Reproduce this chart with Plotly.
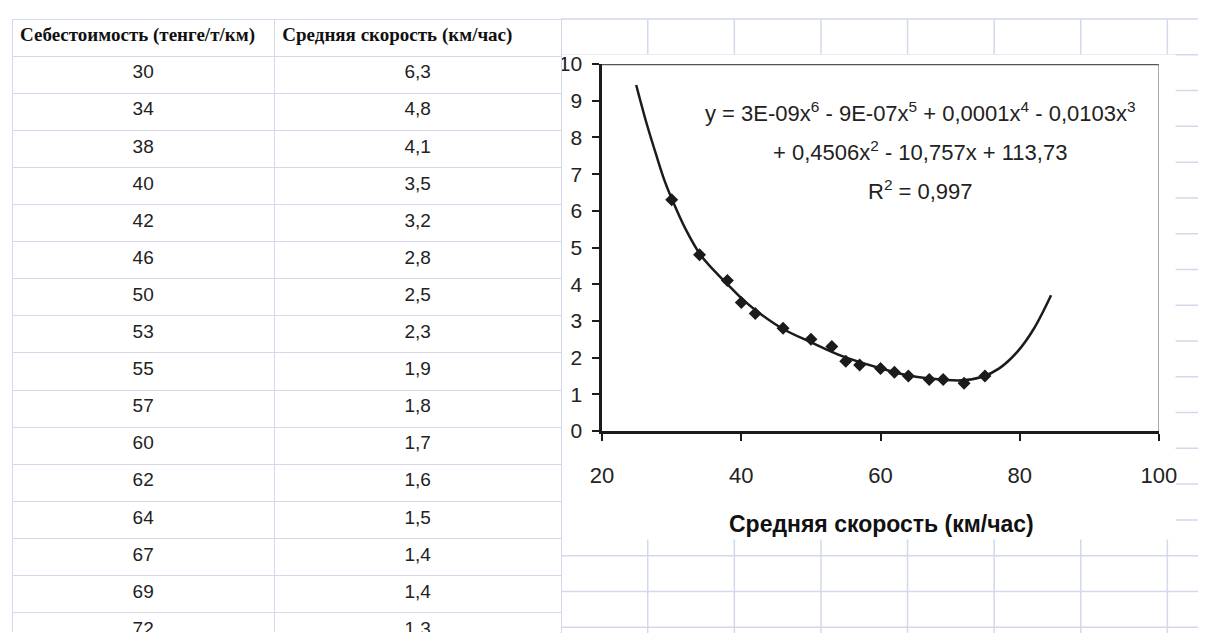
import plotly.graph_objects as go

# ---------------- data ----------------
header_a = "Себестоимость (тенге/т/км)"
header_b = "Средняя скорость (км/час)"
x_vals = [30, 34, 38, 40, 42, 46, 50, 53, 55, 57, 60, 62, 64, 67, 69, 72, 75]
y_vals = [6.3, 4.8, 4.1, 3.5, 3.2, 2.8, 2.5, 2.3, 1.9, 1.8, 1.7, 1.6, 1.5, 1.4, 1.4, 1.3, 1.5]
table_rows = 16  # rows visible in the sheet

trend_x = [24.9, 26.4, 27.8, 29, 30.1, 32, 34.1, 36.2, 38, 40, 42, 46, 50, 54.5, 59.6, 63.8, 67, 71.7, 74.5, 77, 79.7, 82, 84.5]
trend_y = [9.43, 8.38, 7.51, 6.81, 6.29, 5.5, 4.81, 4.35, 4.0, 3.62, 3.3, 2.78, 2.42, 2.04, 1.73, 1.52, 1.43, 1.38, 1.47, 1.7, 2.17, 2.78, 3.7]

eq_lines = [
    "y = 3E-09x<sup>6</sup> - 9E-07x<sup>5</sup> + 0,0001x<sup>4</sup> - 0,0103x<sup>3</sup>",
    "+ 0,4506x<sup>2</sup> - 10,757x + 113,73",
    "R<sup>2</sup> = 0,997",
]
x_title = "Средняя скорость (км/час)"
x_ticks = [20, 40, 60, 80, 100]
y_ticks = list(range(0, 11))

# ---------------- layout constants ----------------
W, H = 1216, 644
GRID = "#d3d9ea"
INK = "#1b1b1b"
SANS = "Liberation Sans, Arial, sans-serif"
TOP = 7.3
ROW_H = 37.1          # sheet row pitch (table rows and sheet grid)
TABLE_RIGHT = 563


def px(v):
    return v / W


def py(v):
    return 1 - v / H


def fmt(v):
    return str(v).replace(".", ",")


fig = go.Figure()

fig.add_trace(go.Table(
    domain=dict(x=[0, px(TABLE_RIGHT)], y=[0, py(TOP)]),
    columnwidth=[269, 294],
    header=dict(
        values=[header_a.replace(" ", "\u00a0"), header_b.replace(" ", "\u00a0")],
        align="left",
        height=ROW_H,
        fill_color="white",
        line=dict(color=GRID, width=1),
        font=dict(family="Liberation Serif, serif", size=19, color="#111", weight="bold"),
    ),
    cells=dict(
        values=[[str(v) for v in x_vals[:table_rows]], [fmt(v) for v in y_vals[:table_rows]]],
        align="center",
        height=ROW_H,
        fill_color="white",
        line=dict(color=GRID, width=1),
        font=dict(family=SANS, size=19, color="#222"),
    ),
))

shapes = []
for k in range(18):
    yy = TOP + ROW_H * k
    shapes.append(dict(type="line", xref="paper", yref="paper", x0=px(TABLE_RIGHT), x1=1,
                       y0=py(yy), y1=py(yy), line=dict(color=GRID, width=1.5), layer="below"))
for k in range(8):
    xx = TABLE_RIGHT + 88.8 * k
    shapes.append(dict(type="line", xref="paper", yref="paper", x0=px(xx), x1=px(xx),
                       y0=0, y1=py(TOP), line=dict(color=GRID, width=1.5), layer="below"))
# white chart sheet pasted over the grid
shapes.append(dict(type="rect", xref="paper", yref="paper", x0=px(562), x1=px(1193),
                   y0=py(547), y1=py(44), fillcolor="white", line=dict(width=0), layer="below"))
# top and right frame of the plot area
shapes.append(dict(type="line", xref="x", yref="y", x0=20, x1=100, y0=10, y1=10,
                   line=dict(color="#555", width=2.5)))
shapes.append(dict(type="line", xref="x", yref="y", x0=100, x1=100, y0=0, y1=10,
                   line=dict(color="#777", width=1.2)))

fig.add_trace(go.Scatter(
    x=trend_x, y=trend_y, mode="lines",
    line=dict(color=INK, width=2.5, shape="spline", smoothing=1.0),
    hoverinfo="skip", showlegend=False,
))
fig.add_trace(go.Scatter(
    x=x_vals, y=y_vals, mode="markers",
    marker=dict(symbol="diamond", size=10, color=INK),
    showlegend=False,
))

x0_px, x1_px = 605.0, 1176.0
y0_px, y1_px = 434.5, 54.0

fig.update_xaxes(
    domain=[px(x0_px), px(x1_px)], range=[20, 100], tickvals=x_ticks,
    showline=True, linecolor=INK, linewidth=2.5, ticks="outside", ticklen=7, tickwidth=2,
    tickcolor=INK, showgrid=False, zeroline=False,
    tickfont=dict(family=SANS, size=22, color="#222"), ticklabelstandoff=16,
)
fig.update_yaxes(
    domain=[py(y0_px), py(y1_px)], range=[0, 10], tickvals=y_ticks,
    showline=True, linecolor=INK, linewidth=2.5, ticks="outside", ticklen=7, tickwidth=2,
    tickcolor=INK, showgrid=False, zeroline=False,
    tickfont=dict(family=SANS, size=21, color="#222"), ticklabelstandoff=6,
)

annotations = []
for txt, yc in zip(eq_lines, [104, 144, 185]):
    annotations.append(dict(text=txt, xref="paper", yref="paper", x=px(931), y=py(yc),
                            xanchor="center", yanchor="middle", showarrow=False,
                            font=dict(family=SANS, size=22, color="#222")))
annotations.append(dict(text="<b>" + x_title + "</b>", xref="paper", yref="paper",
                        x=px(891), y=py(531), xanchor="center", yanchor="middle", showarrow=False,
                        font=dict(family=SANS, size=23, color="#111")))

fig.update_layout(
    width=W, height=H, margin=dict(l=0, r=0, t=0, b=0),
    paper_bgcolor="white", plot_bgcolor="white",
    shapes=shapes, annotations=annotations, showlegend=False,
)

fig.write_html("out.html", config={"displayModeBar": False},
               post_script="document.body.style.margin='0px';")
